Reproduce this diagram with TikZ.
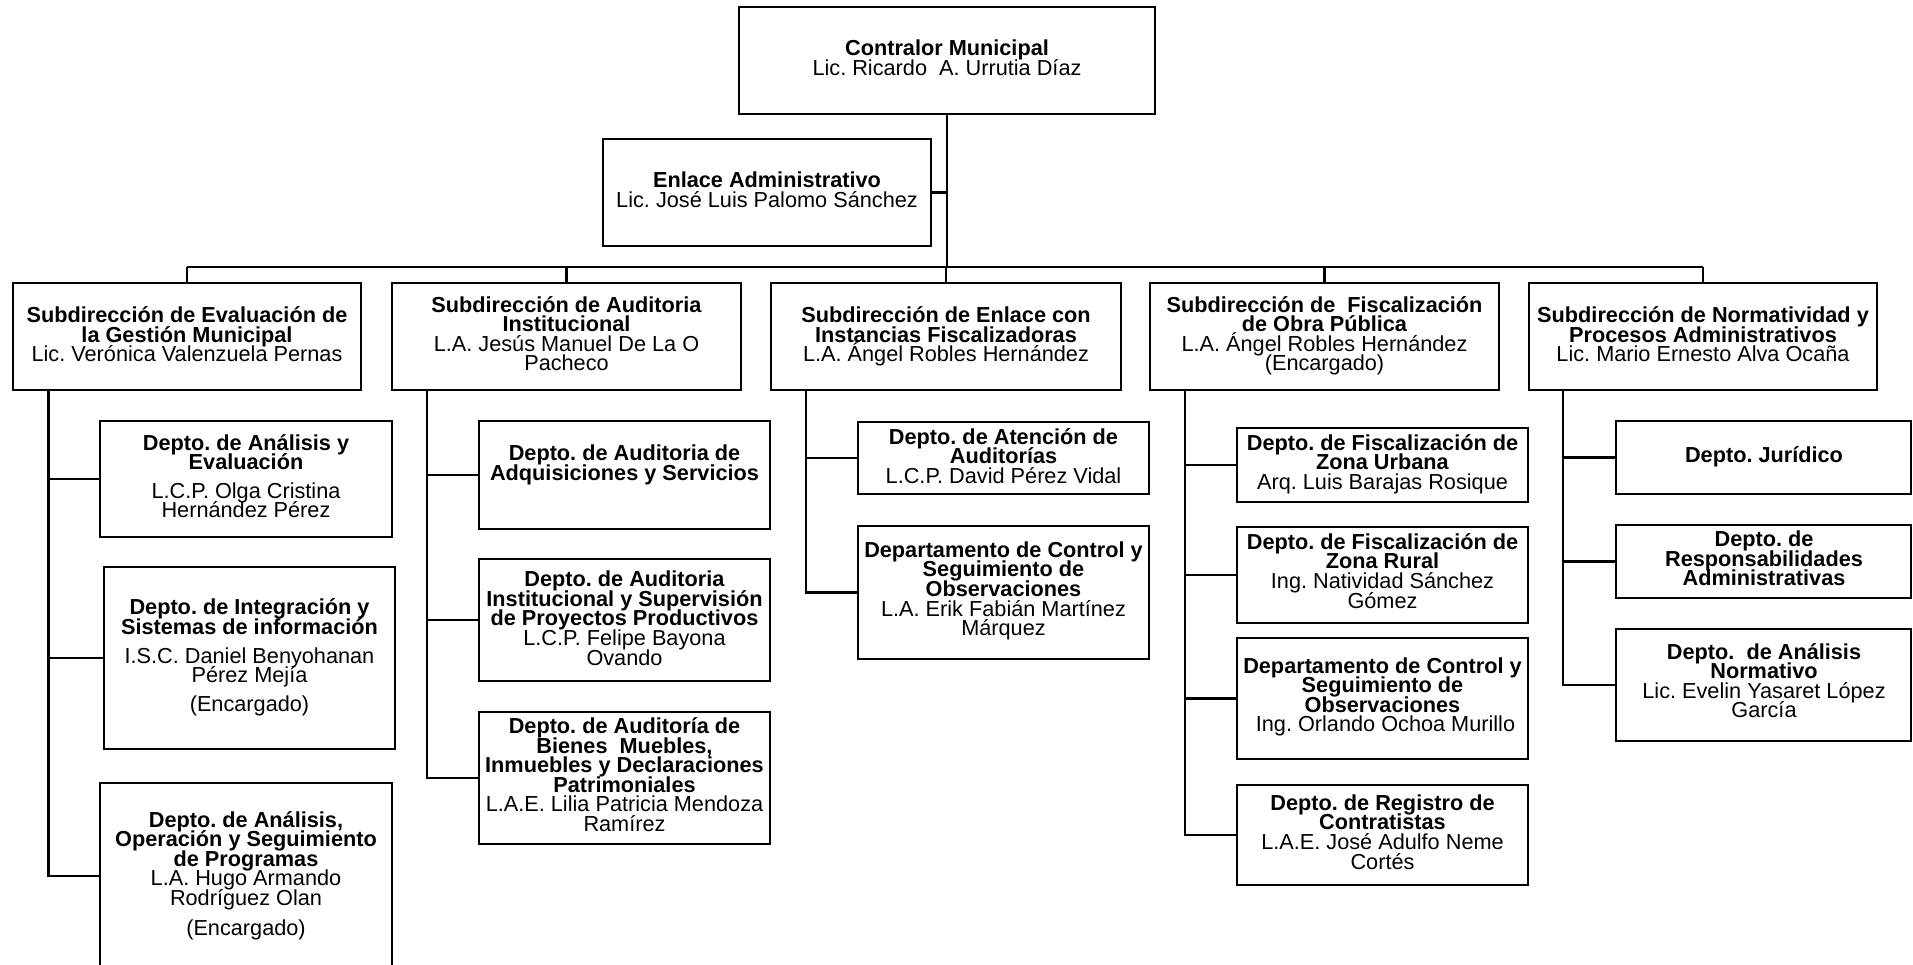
\documentclass[tikz,border=0pt]{standalone}
\usepackage{fontspec}
\setmainfont{Liberation Sans}
\newcommand\chfont{\fontsize{21.7}{19.6}\selectfont\frenchspacing\lineskiplimit=-100pt\relax}
\newcommand\B[1]{\textbf{#1}}
% box: name, x1, y1, x2, y2 (pixel coordinates, y downwards)
\newcommand\bx[5]{\node[box, minimum width={#4-#2}, minimum height={#5-#3}] (#1) at ({(#2+#4)/2},{(#3+#5)/2}) {};}
% text: name, centre x, first baseline y, text
\newcommand\tx[4]{\node[txt] (#1) at (#2,#3-21) {\rule{0pt}{21pt}#4};}
\begin{document}
\begin{tikzpicture}[x=1pt,y=-1pt,
  box/.style={draw=black, line width=2.3pt, fill=white, inner sep=0pt, outer sep=0pt},
  txt/.style={align=center, inner sep=0pt, outer sep=0pt, anchor=north, font=\chfont},
  conn/.style={draw=black, line width=2.3pt}]
\useasboundingbox (0,0) rectangle (1913,965);
\fill[white] (0,0) rectangle (1913,965);
\clip (0,0) rectangle (1913,965);

% boxes
\bx{T}{739}{7}{1155}{114}
\bx{EA}{603}{139}{931}{246}
\bx{S1}{13}{283}{361}{390}
\bx{S2}{392}{283}{741}{390}
\bx{S3}{771}{283}{1121}{390}
\bx{S4}{1150}{283}{1499}{390}
\bx{S5}{1529}{283}{1877}{390}
\bx{A1}{100}{421}{392}{537}
\bx{A2}{104}{567}{395}{749}
\bx{A3}{100}{783}{392}{969}
\bx{B1}{479}{421}{770}{529}
\bx{B2}{479}{559}{770}{681}
\bx{B3}{479}{712}{770}{844}
\bx{C1}{858}{422}{1149}{494}
\bx{C2}{858}{526}{1149}{659}
\bx{D1}{1237}{428}{1528}{502}
\bx{D2}{1237}{527}{1528}{623}
\bx{D3}{1237}{638}{1528}{759}
\bx{D4}{1237}{785}{1528}{885}
\bx{E1}{1616}{421}{1911}{494}
\bx{E2}{1616}{525}{1911}{598}
\bx{E3}{1616}{629}{1911}{741}

% connectors
\coordinate (bus) at (947,267);
\draw[conn] (T.south) -- (bus);
\draw[conn] (EA.east) -- (EA.east -| bus);
\draw[conn] (S1.north |- bus) -- (S5.north |- bus);
\foreach \s in {S1,S2,S3,S4,S5} \draw[conn] (\s.north) -- (\s.north |- bus);

\coordinate (s1t) at ([xshift=35.5pt]S1.south west);
\coordinate (s2t) at ([xshift=35pt]S2.south west);
\coordinate (s3t) at ([xshift=35pt]S3.south west);
\coordinate (s4t) at ([xshift=35pt]S4.south west);
\coordinate (s5t) at ([xshift=34pt]S5.south west);

\draw[conn] (s1t) |- (A3.west);
\draw[conn] (s1t |- A1.west) -- (A1.west);
\draw[conn] (s1t |- A2.west) -- (A2.west);

\draw[conn] (s2t) |- (B3.west);
\draw[conn] (s2t |- B1.west) -- (B1.west);
\draw[conn] (s2t |- B2.west) -- (B2.west);

\draw[conn] (s3t) |- (C2.west);
\draw[conn] (s3t |- C1.west) -- (C1.west);

\draw[conn] (s4t) |- (D4.west);
\draw[conn] (s4t |- D1.west) -- (D1.west);
\draw[conn] (s4t |- D2.west) -- (D2.west);
\draw[conn] (s4t |- D3.west) -- (D3.west);

\draw[conn] (s5t) |- (E3.west);
\draw[conn] (s5t |- E1.west) -- (E1.west);
\draw[conn] (s5t |- E2.west) -- (E2.west);

% texts
\tx{tT}{947}{56}{\B{Contralor Municipal}\\Lic. Ricardo\ \ A. Urrutia Díaz}
\tx{tEA}{767}{188}{\B{Enlace Administrativo}\\Lic. José Luis Palomo Sánchez}
\tx{tS1}{187}{322.5}{\B{Subdirección de Evaluación de}\\\B{la Gestión Municipal}\\Lic. Verónica Valenzuela Pernas}
\tx{tS2}{566.5}{312}{\B{Subdirección de Auditoria}\\\B{Institucional}\\L.A. Jesús Manuel De La O\\Pacheco}
\tx{tS3}{946}{322.5}{\B{Subdirección de Enlace con}\\\B{Instancias Fiscalizadoras}\\L.A. Ángel Robles Hernández}
\tx{tS4}{1324.5}{312}{\B{Subdirección de\ \ Fiscalización}\\\B{de Obra Pública}\\L.A. Ángel Robles Hernández\\(Encargado)}
\tx{tS5}{1703}{322.5}{\B{Subdirección de Normatividad y}\\\B{Procesos Administrativos}\\Lic. Mario Ernesto Alva Ocaña}

\tx{tA1}{246}{450}{\B{Depto. de Análisis y}\\\B{Evaluación}\\[9pt]L.C.P. Olga Cristina\\Hernández Pérez}
\tx{tA2}{249.5}{614.4}{\B{Depto. de Integración y}\\\B{Sistemas de información}\\[9.5pt]I.S.C. Daniel Benyohanan\\Pérez Mejía\\[9.5pt](Encargado)}
\tx{tA3}{246}{827}{\B{Depto. de Análisis,}\\\B{Operación y Seguimiento}\\\B{de Programas}\\L.A. Hugo Armando\\Rodríguez Olan\\[10pt](Encargado)}

\tx{tB1}{624.5}{460.5}{\B{Depto. de Auditoria de}\\\B{Adquisiciones y Servicios}}
\tx{tB2}{624.5}{586.6}{\B{Depto. de Auditoria}\\\B{Institucional y Supervisión}\\\B{de Proyectos Productivos}\\L.C.P. Felipe Bayona\\Ovando}
\tx{tB3}{624.5}{733.5}{\B{Depto. de Auditoría de}\\\B{Bienes\ \ Muebles,}\\\B{Inmuebles y Declaraciones}\\\B{Patrimoniales}\\L.A.E. Lilia Patricia Mendoza\\Ramírez}

\tx{tC1}{1003.5}{444.3}{\B{Depto. de Atención de}\\\B{Auditorías}\\L.C.P. David Pérez Vidal}
\tx{tC2}{1003.5}{557.3}{\B{Departamento de Control y}\\\B{Seguimiento de}\\\B{Observaciones}\\L.A. Erik Fabián Martínez\\Márquez}

\tx{tD1}{1382.5}{450}{\B{Depto. de Fiscalización de}\\\B{Zona Urbana}\\Arq. Luis Barajas Rosique}
\tx{tD2}{1382.5}{549.2}{\B{Depto. de Fiscalización de}\\\B{Zona Rural}\\Ing. Natividad Sánchez\\Gómez}
\tx{tD3}{1382.5}{673}{\B{Departamento de Control y}\\\B{Seguimiento de}\\\B{Observaciones}\\\hspace{6pt}Ing. Orlando Ochoa Murillo}
\tx{tD4}{1382.5}{810.2}{\B{Depto. de Registro de}\\\B{Contratistas}\\L.A.E. José Adulfo Neme\\Cortés}

\tx{tE1}{1764}{462.7}{\B{Depto. Jurídico}}
\tx{tE2}{1764}{546.7}{\B{Depto. de}\\\B{Responsabilidades}\\\B{Administrativas}}
\tx{tE3}{1764}{659}{\B{Depto.\ \ de Análisis}\\\B{Normativo}\\Lic. Evelin Yasaret López\\García}
\end{tikzpicture}
\end{document}
